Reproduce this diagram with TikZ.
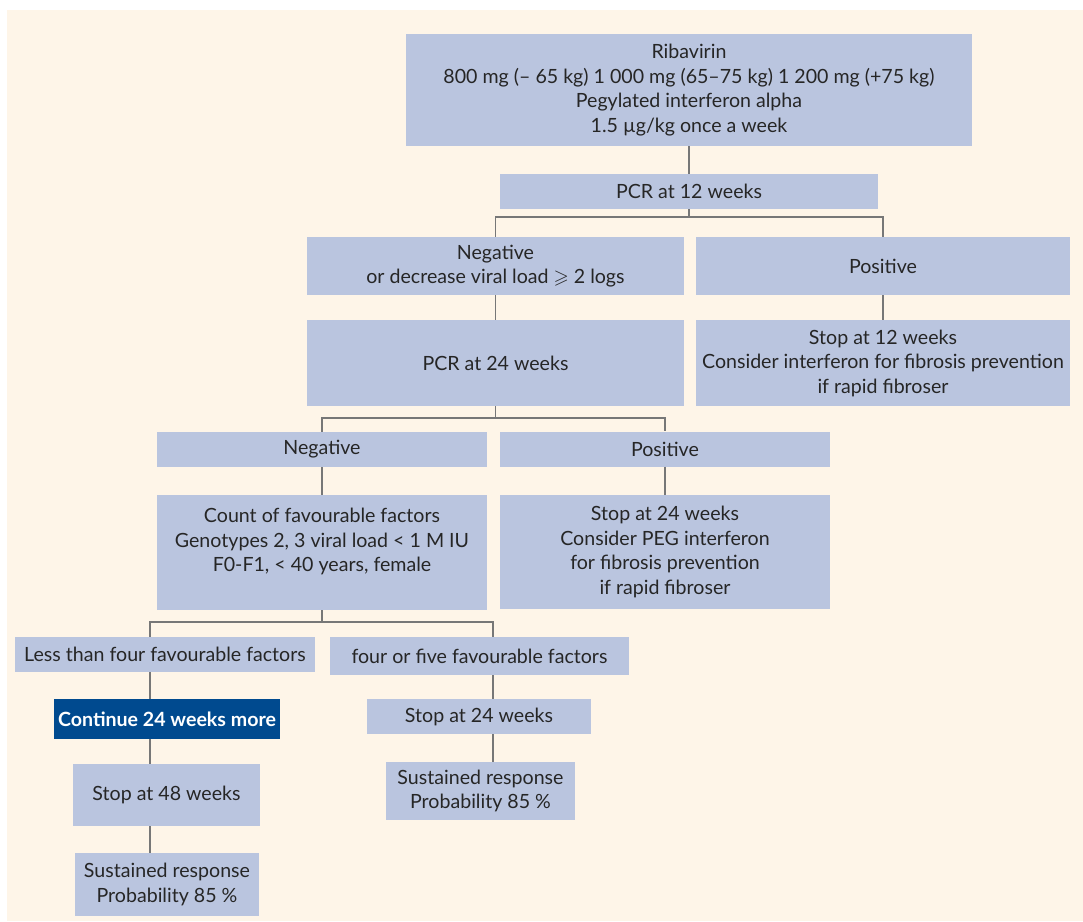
\documentclass[tikz,border=0pt]{standalone}
\usepackage{fontspec}
\usepackage{amssymb}
\setmainfont{Lato}
\definecolor{bgcream}{HTML}{FEF5E8}
\definecolor{boxblue}{HTML}{BAC5DF}
\definecolor{darkblue}{HTML}{004A8F}
\definecolor{linegray}{HTML}{777777}
\definecolor{txtgray}{HTML}{262626}
\begin{document}
\begin{tikzpicture}[x=1pt, y=-1pt,
    box/.style={fill=boxblue, text=txtgray, align=center, inner sep=0pt,
                font=\fontsize{19.6}{24.5}\selectfont},
    hibox/.style={box, fill=darkblue, text=white,
                font=\bfseries\fontsize{19.6}{24.5}\selectfont},
    link/.style={draw=linegray, line width=1.2pt}]
                   \useasboundingbox (0,0) rectangle (1083,921);
                   \fill[bgcream] (7,10) rectangle (1083,921);

                   \node[box, minimum width=566, minimum height=112] (top) at (689,90)
                        {Ribavirin\\800 mg (– 65 kg) 1 000 mg (65–75 kg) 1 200 mg (+75 kg)\\Pegylated interferon alpha\\1.5 µg/kg once a week};
                   \node[box, minimum width=378, minimum height=35] (pcr12) at (689,191.5) {PCR at 12 weeks};

                   \node[box, minimum width=377, minimum height=58] (neg1) at (495.5,266)
                        {Negative\\or decrease viral load $\geqslant$ 2 logs};
                   \node[box, minimum width=374, minimum height=58] (pos1) at (883,266) {Positive};
                   \node[box, minimum width=377, minimum height=86] (pcr24) at (495.5,363) {PCR at 24 weeks};
                   \node[box, minimum width=374, minimum height=86] (stop12) at (883,363)
                        {Stop at 12 weeks\\Consider interferon for fibrosis prevention\\if rapid fibroser};

                   \node[box, minimum width=330, minimum height=35] (neg2) at (322,449.5) {Negative};
                   \node[box, minimum width=330, minimum height=35] (pos2) at (665,449) {Positive};
                   \node[box, minimum width=330, minimum height=115] (count) at (322,552.5)
                        {Count of favourable factors\\Genotypes 2, 3 viral load < 1 M IU\\F0-F1, < 40 years, female\\\mbox{}};
                   \node[box, minimum width=330, minimum height=114] (stoppeg) at (665,552)
                        {Stop at 24 weeks\\Consider PEG interferon\\for fibrosis prevention\\if rapid fibroser};

                   \node[box, minimum width=300, minimum height=35] (less) at (165,654.5) {Less than four favourable factors};
                   \node[box, minimum width=299, minimum height=38] (four) at (479.5,656) {four or five favourable factors};
                   \node[hibox, minimum width=226, minimum height=40] (cont) at (167,719) {Continue 24 weeks more};
                   \node[box, minimum width=224, minimum height=35] (stop24) at (479,716.5) {Stop at 24 weeks};
                   \node[box, minimum width=187, minimum height=62] (stop48) at (166.5,795) {Stop at 48 weeks};
                   \node[box, minimum width=189, minimum height=58] (sustR) at (480.5,791)
                        {Sustained response\\Probability 85 \%};
                   \node[box, minimum width=184, minimum height=63] (sustL) at (167,884.5)
                        {Sustained response\\Probability 85 \%};

                   \coordinate (b1) at (689,217);
                   \coordinate (b2) at (495.5,418);
                   \coordinate (b3) at (322,622);
                   \coordinate (lspine) at (150,0);
                   \coordinate (rspine) at (493,0);

                   \draw[link] (top) -- (pcr12);
                   \draw[link] (pcr12) -- (b1);
                   \draw[link] (neg1.north) |- (b1) -| (pos1.north);
                   \draw[link] (neg1) -- (pcr24);
                   \draw[link] (pos1) -- (stop12);
                   \draw[link] (pcr24) -- (b2);
                   \draw[link] (neg2.north) |- (b2) -| (pos2.north);
                   \draw[link] (neg2) -- (count);
                   \draw[link] (pos2) -- (stoppeg);
                   \draw[link] (count) -- (b3);
                   \draw[link] (less.north -| lspine) |- (b3) -| (four.north -| rspine);
                   \draw[link] (less.south -| lspine) -- (cont.north -| lspine);
                   \draw[link] (cont.south -| lspine) -- (stop48.north -| lspine);
                   \draw[link] (stop48.south -| lspine) -- (sustL.north -| lspine);
                   \draw[link] (four.south -| rspine) -- (stop24.north -| rspine);
                   \draw[link] (stop24.south -| rspine) -- (sustR.north -| rspine);
\end{tikzpicture}
\end{document}
